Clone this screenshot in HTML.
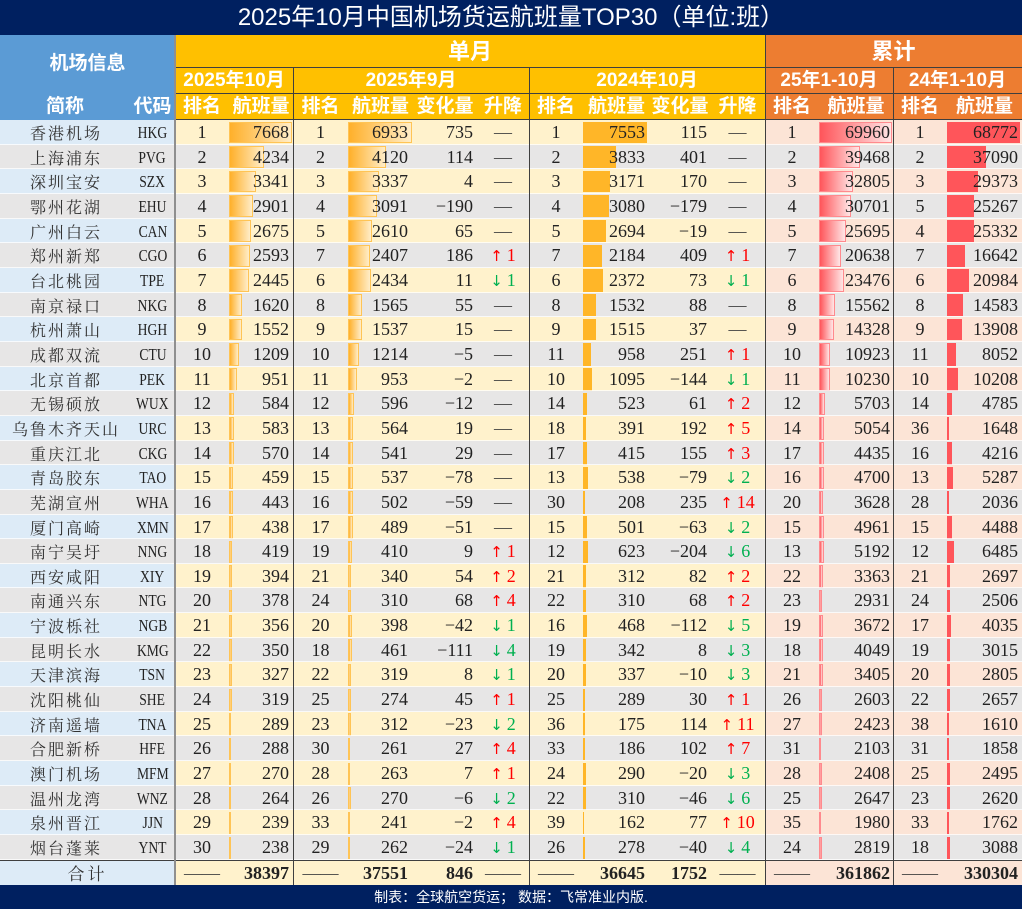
<!DOCTYPE html>
<html><head><meta charset="utf-8">
<style>
*{margin:0;padding:0;box-sizing:border-box}
html,body{width:1024px;height:911px;background:#fff;overflow:hidden}
#w{position:relative;width:1024px;height:911px}
.a{position:absolute}
.title{left:0;top:0;width:1022px;height:35px;background:#002060;color:#fff;font-family:"Liberation Sans","Noto Sans CJK SC",sans-serif;font-size:24px;line-height:36px;text-align:center}
.hd{color:#fff;font-family:"Liberation Sans","Noto Sans CJK SC",sans-serif;font-weight:bold;font-size:19px;text-align:center;white-space:nowrap}
.ln{background:#3f3f3f}
#rows{position:absolute;left:0;top:120px;width:1022px}
.row,.tot{position:relative;display:grid;grid-template-columns:130px 45px 54px 64px 55px 65px 64px 52px 54px 67px 60px 55px 54px 74px 54px 75px;font-family:"Liberation Serif","Noto Serif CJK SC",serif;font-size:18px;color:#222;text-align:center}
.row{height:24.667px;line-height:25px;background:#E7E6E6}
.row.o{background:linear-gradient(90deg,#DDEBF7 0,#DDEBF7 175px,#FFF2CC 175px,#FFF2CC 765px,#FCE4D6 765px)}
.row::after{content:"";position:absolute;left:0;right:0;bottom:0;height:1px;background:rgba(255,255,255,.75)}
.row>span,.tot>span{position:relative;z-index:0;white-space:nowrap}
.nm{font-family:"Noto Serif CJK SC","Liberation Serif",serif;font-size:16px;letter-spacing:2px;padding-left:2px;color:#333}
.cd b{display:inline-block;font-weight:normal;font-size:17px;transform:scaleX(.8)}
.v,.d{text-align:right}
.v i{position:absolute;left:0;top:1.5px;bottom:2px;z-index:-1}
.row>span:nth-child(4),.tot>span:nth-child(4){padding-right:4px}
.row>span:nth-child(6),.tot>span:nth-child(6){padding-right:5px}
.row>span:nth-child(7),.tot>span:nth-child(7){padding-right:4px}
.row>span:nth-child(10),.tot>span:nth-child(10){padding-right:5px}
.row>span:nth-child(11),.tot>span:nth-child(11){padding-right:3px}
.row>span:nth-child(14),.tot>span:nth-child(14){padding-right:3px}
.row>span:nth-child(16),.tot>span:nth-child(16){padding-right:4px}
.row>span:nth-child(4) i,.row>span:nth-child(6) i{background:linear-gradient(90deg,#FFB02A,#FFEDC8);border:1px solid #FFC455}
.row>span:nth-child(10) i{background:#FFB628}
.row>span:nth-child(14) i{background:linear-gradient(90deg,#FF555A,#FFE6E6);border:1px solid #FF8A8E}
.row>span:nth-child(16) i{background:#FF555A}
.m{color:#404040}
em{font-style:normal}
.up{color:#FF0000}.dn{color:#00B050}
.up i,.dn i{font-family:"DejaVu Sans","Liberation Serif",sans-serif;font-style:normal;font-size:15px;margin-right:4px}
.tot{height:25px;line-height:26px;background:linear-gradient(90deg,#DDEBF7 0,#DDEBF7 175px,#FFF2CC 175px,#FFF2CC 765px,#FCE4D6 765px)}
.tot .v,.tot .d{font-weight:bold}
.foot{left:0;top:885px;width:1022px;height:24px;background:#002060;color:#fff;font-family:"Liberation Sans","Noto Sans CJK SC",sans-serif;font-size:14px;line-height:24px;text-align:center}
</style></head><body><div id="w">
<div class="a title">2025年10月中国机场货运航班量TOP30（单位:班）</div>

<div class="a" style="left:0;top:35px;width:175px;height:85px;background:#5B9BD5"></div>
<div class="a" style="left:175px;top:35px;width:590px;height:85px;background:#FFC000"></div>
<div class="a" style="left:765px;top:35px;width:257px;height:85px;background:#ED7D31"></div>

<div class="a hd" style="left:0;top:35px;width:175px;height:58px;line-height:58px">机场信息</div>
<div class="a hd" style="left:0;top:93px;width:130px;height:26px;line-height:27px">简称</div>
<div class="a hd" style="left:130px;top:93px;width:45px;height:26px;line-height:27px">代码</div>

<div class="a hd" style="left:175px;top:35px;width:590px;height:32px;line-height:34px;font-size:22px">单月</div>
<div class="a hd" style="left:765px;top:35px;width:257px;height:32px;line-height:34px;font-size:22px">累计</div>

<div class="a hd" style="left:175px;top:67px;width:118px;height:26px;line-height:27px">2025年10月</div>
<div class="a hd" style="left:293px;top:67px;width:236px;height:26px;line-height:27px">2025年9月</div>
<div class="a hd" style="left:529px;top:67px;width:236px;height:26px;line-height:27px">2024年10月</div>
<div class="a hd" style="left:765px;top:67px;width:128px;height:26px;line-height:27px">25年1-10月</div>
<div class="a hd" style="left:893px;top:67px;width:129px;height:26px;line-height:27px">24年1-10月</div>

<div class="a hd" style="left:175px;top:93px;width:54px;height:26px;line-height:27px">排名</div>
<div class="a hd" style="left:229px;top:93px;width:64px;height:26px;line-height:27px">航班量</div>
<div class="a hd" style="left:293px;top:93px;width:55px;height:26px;line-height:27px">排名</div>
<div class="a hd" style="left:348px;top:93px;width:65px;height:26px;line-height:27px">航班量</div>
<div class="a hd" style="left:413px;top:93px;width:64px;height:26px;line-height:27px">变化量</div>
<div class="a hd" style="left:477px;top:93px;width:52px;height:26px;line-height:27px">升降</div>
<div class="a hd" style="left:529px;top:93px;width:54px;height:26px;line-height:27px">排名</div>
<div class="a hd" style="left:583px;top:93px;width:67px;height:26px;line-height:27px">航班量</div>
<div class="a hd" style="left:650px;top:93px;width:60px;height:26px;line-height:27px">变化量</div>
<div class="a hd" style="left:710px;top:93px;width:55px;height:26px;line-height:27px">升降</div>
<div class="a hd" style="left:765px;top:93px;width:54px;height:26px;line-height:27px">排名</div>
<div class="a hd" style="left:819px;top:93px;width:74px;height:26px;line-height:27px">航班量</div>
<div class="a hd" style="left:893px;top:93px;width:54px;height:26px;line-height:27px">排名</div>
<div class="a hd" style="left:947px;top:93px;width:75px;height:26px;line-height:27px">航班量</div>

<div id="rows">
<div class="row o"><span class="nm">香港机场</span><span class="cd"><b>HKG</b></span><span>1</span><span class="v"><i style="width:63px"></i>7668</span><span>1</span><span class="v"><i style="width:64px"></i>6933</span><span class="d">735</span><span class="m">—</span><span>1</span><span class="v"><i style="width:64px"></i>7553</span><span class="d">115</span><span class="m">—</span><span>1</span><span class="v"><i style="width:73px"></i>69960</span><span>1</span><span class="v"><i style="width:73px"></i>68772</span></div>
<div class="row"><span class="nm">上海浦东</span><span class="cd"><b>PVG</b></span><span>2</span><span class="v"><i style="width:34.8px"></i>4234</span><span>2</span><span class="v"><i style="width:38px"></i>4120</span><span class="d">114</span><span class="m">—</span><span>2</span><span class="v"><i style="width:32.5px"></i>3833</span><span class="d">401</span><span class="m">—</span><span>2</span><span class="v"><i style="width:41.2px"></i>39468</span><span>2</span><span class="v"><i style="width:39.4px"></i>37090</span></div>
<div class="row o"><span class="nm">深圳宝安</span><span class="cd"><b>SZX</b></span><span>3</span><span class="v"><i style="width:27.4px"></i>3341</span><span>3</span><span class="v"><i style="width:30.8px"></i>3337</span><span class="d">4</span><span class="m">—</span><span>3</span><span class="v"><i style="width:26.9px"></i>3171</span><span class="d">170</span><span class="m">—</span><span>3</span><span class="v"><i style="width:34.2px"></i>32805</span><span>3</span><span class="v"><i style="width:31.2px"></i>29373</span></div>
<div class="row"><span class="nm">鄂州花湖</span><span class="cd"><b>EHU</b></span><span>4</span><span class="v"><i style="width:23.8px"></i>2901</span><span>4</span><span class="v"><i style="width:28.5px"></i>3091</span><span class="d">−190</span><span class="m">—</span><span>4</span><span class="v"><i style="width:26.1px"></i>3080</span><span class="d">−179</span><span class="m">—</span><span>4</span><span class="v"><i style="width:32px"></i>30701</span><span>5</span><span class="v"><i style="width:26.8px"></i>25267</span></div>
<div class="row o"><span class="nm">广州白云</span><span class="cd"><b>CAN</b></span><span>5</span><span class="v"><i style="width:22px"></i>2675</span><span>5</span><span class="v"><i style="width:24.1px"></i>2610</span><span class="d">65</span><span class="m">—</span><span>5</span><span class="v"><i style="width:22.8px"></i>2694</span><span class="d">−19</span><span class="m">—</span><span>5</span><span class="v"><i style="width:26.8px"></i>25695</span><span>4</span><span class="v"><i style="width:26.9px"></i>25332</span></div>
<div class="row"><span class="nm">郑州新郑</span><span class="cd"><b>CGO</b></span><span>6</span><span class="v"><i style="width:21.3px"></i>2593</span><span>7</span><span class="v"><i style="width:22.2px"></i>2407</span><span class="d">186</span><span><em class="up"><i>↑</i>1</em></span><span>7</span><span class="v"><i style="width:18.5px"></i>2184</span><span class="d">409</span><span><em class="up"><i>↑</i>1</em></span><span>7</span><span class="v"><i style="width:21.5px"></i>20638</span><span>7</span><span class="v"><i style="width:17.7px"></i>16642</span></div>
<div class="row o"><span class="nm">台北桃园</span><span class="cd"><b>TPE</b></span><span>7</span><span class="v"><i style="width:20.1px"></i>2445</span><span>6</span><span class="v"><i style="width:22.5px"></i>2434</span><span class="d">11</span><span><em class="dn"><i>↓</i>1</em></span><span>6</span><span class="v"><i style="width:20.1px"></i>2372</span><span class="d">73</span><span><em class="dn"><i>↓</i>1</em></span><span>6</span><span class="v"><i style="width:24.5px"></i>23476</span><span>6</span><span class="v"><i style="width:22.3px"></i>20984</span></div>
<div class="row"><span class="nm">南京禄口</span><span class="cd"><b>NKG</b></span><span>8</span><span class="v"><i style="width:13.3px"></i>1620</span><span>8</span><span class="v"><i style="width:14.4px"></i>1565</span><span class="d">55</span><span class="m">—</span><span>8</span><span class="v"><i style="width:13px"></i>1532</span><span class="d">88</span><span class="m">—</span><span>8</span><span class="v"><i style="width:16.2px"></i>15562</span><span>8</span><span class="v"><i style="width:15.5px"></i>14583</span></div>
<div class="row o"><span class="nm">杭州萧山</span><span class="cd"><b>HGH</b></span><span>9</span><span class="v"><i style="width:12.8px"></i>1552</span><span>9</span><span class="v"><i style="width:14.2px"></i>1537</span><span class="d">15</span><span class="m">—</span><span>9</span><span class="v"><i style="width:12.8px"></i>1515</span><span class="d">37</span><span class="m">—</span><span>9</span><span class="v"><i style="width:14.9px"></i>14328</span><span>9</span><span class="v"><i style="width:14.8px"></i>13908</span></div>
<div class="row"><span class="nm">成都双流</span><span class="cd"><b>CTU</b></span><span>10</span><span class="v"><i style="width:9.9px"></i>1209</span><span>10</span><span class="v"><i style="width:11.2px"></i>1214</span><span class="d">−5</span><span class="m">—</span><span>11</span><span class="v"><i style="width:8.1px"></i>958</span><span class="d">251</span><span><em class="up"><i>↑</i>1</em></span><span>10</span><span class="v"><i style="width:11.4px"></i>10923</span><span>11</span><span class="v"><i style="width:8.5px"></i>8052</span></div>
<div class="row o"><span class="nm">北京首都</span><span class="cd"><b>PEK</b></span><span>11</span><span class="v"><i style="width:7.8px"></i>951</span><span>11</span><span class="v"><i style="width:8.8px"></i>953</span><span class="d">−2</span><span class="m">—</span><span>10</span><span class="v"><i style="width:9.3px"></i>1095</span><span class="d">−144</span><span><em class="dn"><i>↓</i>1</em></span><span>11</span><span class="v"><i style="width:10.7px"></i>10230</span><span>10</span><span class="v"><i style="width:10.8px"></i>10208</span></div>
<div class="row"><span class="nm">无锡硕放</span><span class="cd"><b>WUX</b></span><span>12</span><span class="v"><i style="width:4.8px"></i>584</span><span>12</span><span class="v"><i style="width:5.5px"></i>596</span><span class="d">−12</span><span class="m">—</span><span>14</span><span class="v"><i style="width:4.4px"></i>523</span><span class="d">61</span><span><em class="up"><i>↑</i>2</em></span><span>12</span><span class="v"><i style="width:6px"></i>5703</span><span>14</span><span class="v"><i style="width:5.1px"></i>4785</span></div>
<div class="row o"><span class="nm">乌鲁木齐天山</span><span class="cd"><b>URC</b></span><span>13</span><span class="v"><i style="width:4.8px"></i>583</span><span>13</span><span class="v"><i style="width:5.2px"></i>564</span><span class="d">19</span><span class="m">—</span><span>18</span><span class="v"><i style="width:3.3px"></i>391</span><span class="d">192</span><span><em class="up"><i>↑</i>5</em></span><span>14</span><span class="v"><i style="width:5.3px"></i>5054</span><span>36</span><span class="v"><i style="width:1.7px"></i>1648</span></div>
<div class="row"><span class="nm">重庆江北</span><span class="cd"><b>CKG</b></span><span>14</span><span class="v"><i style="width:4.7px"></i>570</span><span>14</span><span class="v"><i style="width:5px"></i>541</span><span class="d">29</span><span class="m">—</span><span>17</span><span class="v"><i style="width:3.5px"></i>415</span><span class="d">155</span><span><em class="up"><i>↑</i>3</em></span><span>17</span><span class="v"><i style="width:4.6px"></i>4435</span><span>16</span><span class="v"><i style="width:4.5px"></i>4216</span></div>
<div class="row o"><span class="nm">青岛胶东</span><span class="cd"><b>TAO</b></span><span>15</span><span class="v"><i style="width:3.8px"></i>459</span><span>15</span><span class="v"><i style="width:5px"></i>537</span><span class="d">−78</span><span class="m">—</span><span>13</span><span class="v"><i style="width:4.6px"></i>538</span><span class="d">−79</span><span><em class="dn"><i>↓</i>2</em></span><span>16</span><span class="v"><i style="width:4.9px"></i>4700</span><span>13</span><span class="v"><i style="width:5.6px"></i>5287</span></div>
<div class="row"><span class="nm">芜湖宣州</span><span class="cd"><b>WHA</b></span><span>16</span><span class="v"><i style="width:3.6px"></i>443</span><span>16</span><span class="v"><i style="width:4.6px"></i>502</span><span class="d">−59</span><span class="m">—</span><span>30</span><span class="v"><i style="width:1.8px"></i>208</span><span class="d">235</span><span><em class="up"><i>↑</i>14</em></span><span>20</span><span class="v"><i style="width:3.8px"></i>3628</span><span>28</span><span class="v"><i style="width:2.2px"></i>2036</span></div>
<div class="row o"><span class="nm">厦门高崎</span><span class="cd"><b>XMN</b></span><span>17</span><span class="v"><i style="width:3.6px"></i>438</span><span>17</span><span class="v"><i style="width:4.5px"></i>489</span><span class="d">−51</span><span class="m">—</span><span>15</span><span class="v"><i style="width:4.2px"></i>501</span><span class="d">−63</span><span><em class="dn"><i>↓</i>2</em></span><span>15</span><span class="v"><i style="width:5.2px"></i>4961</span><span>15</span><span class="v"><i style="width:4.8px"></i>4488</span></div>
<div class="row"><span class="nm">南宁吴圩</span><span class="cd"><b>NNG</b></span><span>18</span><span class="v"><i style="width:3.4px"></i>419</span><span>19</span><span class="v"><i style="width:3.8px"></i>410</span><span class="d">9</span><span><em class="up"><i>↑</i>1</em></span><span>12</span><span class="v"><i style="width:5.3px"></i>623</span><span class="d">−204</span><span><em class="dn"><i>↓</i>6</em></span><span>13</span><span class="v"><i style="width:5.4px"></i>5192</span><span>12</span><span class="v"><i style="width:6.9px"></i>6485</span></div>
<div class="row o"><span class="nm">西安咸阳</span><span class="cd"><b>XIY</b></span><span>19</span><span class="v"><i style="width:3.2px"></i>394</span><span>21</span><span class="v"><i style="width:3.1px"></i>340</span><span class="d">54</span><span><em class="up"><i>↑</i>2</em></span><span>21</span><span class="v"><i style="width:2.6px"></i>312</span><span class="d">82</span><span><em class="up"><i>↑</i>2</em></span><span>22</span><span class="v"><i style="width:3.5px"></i>3363</span><span>21</span><span class="v"><i style="width:2.9px"></i>2697</span></div>
<div class="row"><span class="nm">南通兴东</span><span class="cd"><b>NTG</b></span><span>20</span><span class="v"><i style="width:3.1px"></i>378</span><span>24</span><span class="v"><i style="width:2.9px"></i>310</span><span class="d">68</span><span><em class="up"><i>↑</i>4</em></span><span>22</span><span class="v"><i style="width:2.6px"></i>310</span><span class="d">68</span><span><em class="up"><i>↑</i>2</em></span><span>23</span><span class="v"><i style="width:3.1px"></i>2931</span><span>24</span><span class="v"><i style="width:2.7px"></i>2506</span></div>
<div class="row o"><span class="nm">宁波栎社</span><span class="cd"><b>NGB</b></span><span>21</span><span class="v"><i style="width:2.9px"></i>356</span><span>20</span><span class="v"><i style="width:3.7px"></i>398</span><span class="d">−42</span><span><em class="dn"><i>↓</i>1</em></span><span>16</span><span class="v"><i style="width:4px"></i>468</span><span class="d">−112</span><span><em class="dn"><i>↓</i>5</em></span><span>19</span><span class="v"><i style="width:3.8px"></i>3672</span><span>17</span><span class="v"><i style="width:4.3px"></i>4035</span></div>
<div class="row"><span class="nm">昆明长水</span><span class="cd"><b>KMG</b></span><span>22</span><span class="v"><i style="width:2.9px"></i>350</span><span>18</span><span class="v"><i style="width:4.3px"></i>461</span><span class="d">−111</span><span><em class="dn"><i>↓</i>4</em></span><span>19</span><span class="v"><i style="width:2.9px"></i>342</span><span class="d">8</span><span><em class="dn"><i>↓</i>3</em></span><span>18</span><span class="v"><i style="width:4.2px"></i>4049</span><span>19</span><span class="v"><i style="width:3.2px"></i>3015</span></div>
<div class="row o"><span class="nm">天津滨海</span><span class="cd"><b>TSN</b></span><span>23</span><span class="v"><i style="width:2.7px"></i>327</span><span>22</span><span class="v"><i style="width:2.9px"></i>319</span><span class="d">8</span><span><em class="dn"><i>↓</i>1</em></span><span>20</span><span class="v"><i style="width:2.9px"></i>337</span><span class="d">−10</span><span><em class="dn"><i>↓</i>3</em></span><span>21</span><span class="v"><i style="width:3.6px"></i>3405</span><span>20</span><span class="v"><i style="width:3px"></i>2805</span></div>
<div class="row"><span class="nm">沈阳桃仙</span><span class="cd"><b>SHE</b></span><span>24</span><span class="v"><i style="width:2.6px"></i>319</span><span>25</span><span class="v"><i style="width:2.5px"></i>274</span><span class="d">45</span><span><em class="up"><i>↑</i>1</em></span><span>25</span><span class="v"><i style="width:2.4px"></i>289</span><span class="d">30</span><span><em class="up"><i>↑</i>1</em></span><span>26</span><span class="v"><i style="width:2.7px"></i>2603</span><span>22</span><span class="v"><i style="width:2.8px"></i>2657</span></div>
<div class="row o"><span class="nm">济南遥墙</span><span class="cd"><b>TNA</b></span><span>25</span><span class="v"><i style="width:2.4px"></i>289</span><span>23</span><span class="v"><i style="width:2.9px"></i>312</span><span class="d">−23</span><span><em class="dn"><i>↓</i>2</em></span><span>36</span><span class="v"><i style="width:1.5px"></i>175</span><span class="d">114</span><span><em class="up"><i>↑</i>11</em></span><span>27</span><span class="v"><i style="width:2.5px"></i>2423</span><span>38</span><span class="v"><i style="width:1.7px"></i>1610</span></div>
<div class="row"><span class="nm">合肥新桥</span><span class="cd"><b>HFE</b></span><span>26</span><span class="v"><i style="width:2.4px"></i>288</span><span>30</span><span class="v"><i style="width:2.4px"></i>261</span><span class="d">27</span><span><em class="up"><i>↑</i>4</em></span><span>33</span><span class="v"><i style="width:1.6px"></i>186</span><span class="d">102</span><span><em class="up"><i>↑</i>7</em></span><span>31</span><span class="v"><i style="width:2.2px"></i>2103</span><span>31</span><span class="v"><i style="width:2px"></i>1858</span></div>
<div class="row o"><span class="nm">澳门机场</span><span class="cd"><b>MFM</b></span><span>27</span><span class="v"><i style="width:2.2px"></i>270</span><span>28</span><span class="v"><i style="width:2.4px"></i>263</span><span class="d">7</span><span><em class="up"><i>↑</i>1</em></span><span>24</span><span class="v"><i style="width:2.5px"></i>290</span><span class="d">−20</span><span><em class="dn"><i>↓</i>3</em></span><span>28</span><span class="v"><i style="width:2.5px"></i>2408</span><span>25</span><span class="v"><i style="width:2.6px"></i>2495</span></div>
<div class="row"><span class="nm">温州龙湾</span><span class="cd"><b>WNZ</b></span><span>28</span><span class="v"><i style="width:2.2px"></i>264</span><span>26</span><span class="v"><i style="width:2.5px"></i>270</span><span class="d">−6</span><span><em class="dn"><i>↓</i>2</em></span><span>22</span><span class="v"><i style="width:2.6px"></i>310</span><span class="d">−46</span><span><em class="dn"><i>↓</i>6</em></span><span>25</span><span class="v"><i style="width:2.8px"></i>2647</span><span>23</span><span class="v"><i style="width:2.8px"></i>2620</span></div>
<div class="row o"><span class="nm">泉州晋江</span><span class="cd"><b>JJN</b></span><span>29</span><span class="v"><i style="width:2px"></i>239</span><span>33</span><span class="v"><i style="width:2.2px"></i>241</span><span class="d">−2</span><span><em class="up"><i>↑</i>4</em></span><span>39</span><span class="v"><i style="width:1.4px"></i>162</span><span class="d">77</span><span><em class="up"><i>↑</i>10</em></span><span>35</span><span class="v"><i style="width:2.1px"></i>1980</span><span>33</span><span class="v"><i style="width:1.9px"></i>1762</span></div>
<div class="row"><span class="nm">烟台蓬莱</span><span class="cd"><b>YNT</b></span><span>30</span><span class="v"><i style="width:2px"></i>238</span><span>29</span><span class="v"><i style="width:2.4px"></i>262</span><span class="d">−24</span><span><em class="dn"><i>↓</i>1</em></span><span>26</span><span class="v"><i style="width:2.4px"></i>278</span><span class="d">−40</span><span><em class="dn"><i>↓</i>4</em></span><span>24</span><span class="v"><i style="width:2.9px"></i>2819</span><span>18</span><span class="v"><i style="width:3.3px"></i>3088</span></div>
<div class="tot"><span class="nm" style="padding-left:45px;font-size:17px;letter-spacing:3px">合计</span><span></span><span class="m">——</span><span class="v">38397</span><span class="m">——</span><span class="v">37551</span><span class="d">846</span><span class="m">——</span><span class="m">——</span><span class="v">36645</span><span class="d">1752</span><span class="m">——</span><span class="m">——</span><span class="v">361862</span><span class="m">——</span><span class="v">330304</span></div>
</div>

<div class="a ln" style="left:175px;top:67px;width:847px;height:1px"></div>
<div class="a ln" style="left:175px;top:93px;width:847px;height:1px"></div>
<div class="a ln" style="left:175px;top:119px;width:847px;height:1px"></div>
<div class="a ln" style="left:0;top:860px;width:1022px;height:1px"></div>
<div class="a" style="left:174px;top:35px;width:2px;height:850px;background:#8f8f8f"></div>
<div class="a ln" style="left:293px;top:67px;width:1px;height:818px"></div>
<div class="a ln" style="left:529px;top:67px;width:1px;height:818px"></div>
<div class="a ln" style="left:765px;top:35px;width:1px;height:850px"></div>
<div class="a ln" style="left:893px;top:67px;width:1px;height:818px"></div>

<div class="a foot">制表：全球航空货运； 数据：飞常准业内版.</div>
</div></body></html>
